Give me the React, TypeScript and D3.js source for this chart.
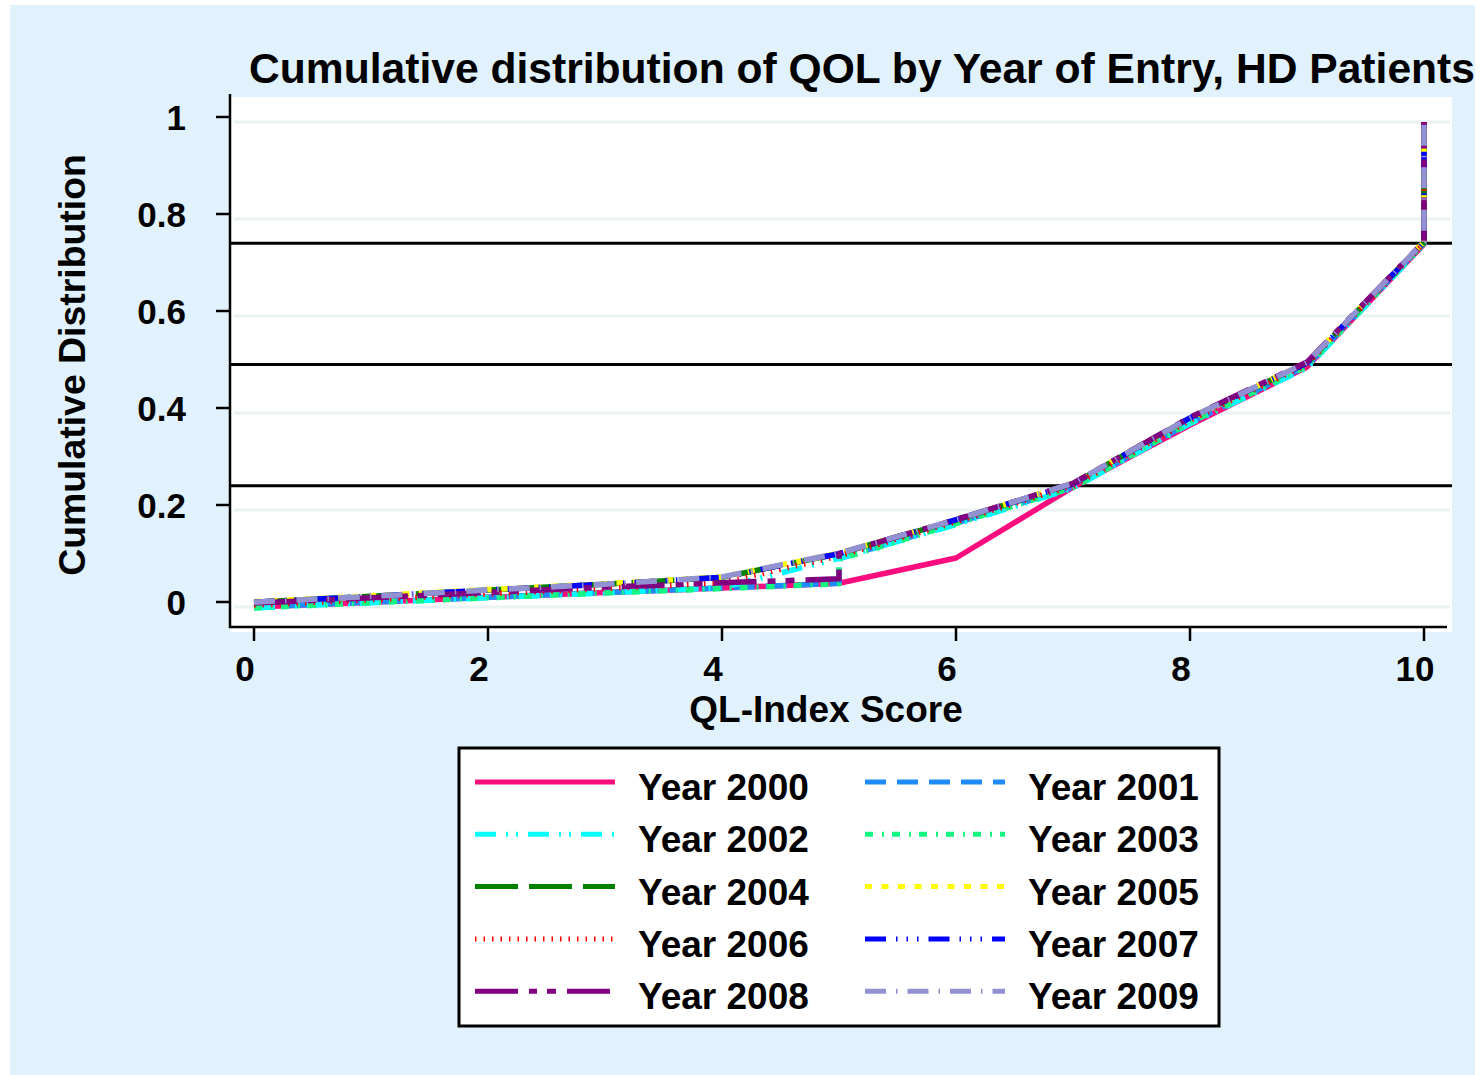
import * as d3 from 'd3';

// cumulative distribution of the QL-Index score, one list of [score, cumulative] per entry year
const qol2000: [number, number][] = [[0, 0], [1, 0.01], [2, 0.02], [3, 0.03], [4, 0.039], [5, 0.049], [6, 0.101], [7, 0.247], [8, 0.375], [9, 0.495], [10, 0.748], [10, 1]];
const qol2001: [number, number][] = [[0, 0], [1, 0.01], [2, 0.02], [3, 0.03], [4, 0.039], [5, 0.049], [5, 0.1], [6, 0.173], [7, 0.247], [8, 0.38], [9, 0.497], [10, 0.75], [10, 1]];
const qol2002: [number, number][] = [[0, -0.002], [1, 0.009], [2, 0.019], [3, 0.029], [4, 0.04], [5, 0.1], [6, 0.17], [7, 0.245], [8, 0.378], [9, 0.493], [10, 0.748], [10, 1]];
const qol2003: [number, number][] = [[0, -0.002], [1, 0.009], [2, 0.019], [3, 0.029], [4, 0.038], [5, 0.048], [5, 0.098], [6, 0.172], [7, 0.246], [8, 0.38], [9, 0.496], [10, 0.75], [10, 1]];
const qol2004: [number, number][] = [[0, 0.01], [1, 0.022], [2, 0.035], [3, 0.047], [4, 0.061], [5, 0.11], [6, 0.179], [7, 0.254], [8, 0.39], [9, 0.503], [10, 0.752], [10, 1]];
const qol2005: [number, number][] = [[0, 0.011], [1, 0.023], [2, 0.036], [3, 0.048], [4, 0.062], [5, 0.111], [6, 0.18], [7, 0.255], [8, 0.39], [9, 0.504], [10, 0.753], [10, 1]];
const qol2006: [number, number][] = [[0, 0.004], [1, 0.015], [2, 0.027], [3, 0.038], [4, 0.05], [5, 0.105], [6, 0.176], [7, 0.25], [8, 0.385], [9, 0.5], [10, 0.75], [10, 1]];
const qol2007: [number, number][] = [[0, 0.01], [1, 0.022], [2, 0.035], [3, 0.047], [4, 0.061], [5, 0.11], [6, 0.18], [7, 0.254], [8, 0.39], [9, 0.503], [10, 0.752], [10, 1]];
const qol2008: [number, number][] = [[0, 0.008], [1, 0.019], [2, 0.03], [3, 0.041], [4, 0.05], [5, 0.058], [5, 0.11], [6, 0.18], [7, 0.255], [8, 0.391], [9, 0.505], [10, 0.753], [10, 1]];
const qol2009: [number, number][] = [[0, 0.01], [1, 0.022], [2, 0.035], [3, 0.047], [4, 0.062], [5, 0.111], [6, 0.18], [7, 0.255], [8, 0.39], [9, 0.504], [10, 0.753], [10, 1]];

const years = ['2000', '2001', '2002', '2003', '2004', '2005', '2006', '2007', '2008', '2009'];
const seriesData = [qol2000, qol2001, qol2002, qol2003, qol2004, qol2005, qol2006, qol2007, qol2008, qol2009];

const xTicks = [0, 2, 4, 6, 8, 10];
const yTicks = [0, 0.2, 0.4, 0.6, 0.8, 1];
const refLines = [0.25, 0.5, 0.75];

const lineStyles = [
  { color: '#fb0d7f', dash: 'none' },
  { color: '#1e8cff', dash: '21,11' },
  { color: '#00ffff', dash: '21,10,2,8,2,10' },
  { color: '#14f582', dash: '8,9,2,8' },
  { color: '#008000', dash: '43,11' },
  { color: '#ffff00', dash: '7,9.5' },
  { color: '#ff0000', dash: '1.5,7' },
  { color: '#0000ff', dash: '21,10,1.5,9,1.5,9,1.5,10' },
  { color: '#800080', dash: '43,11,8,10,9,11' },
  { color: '#9292d2', dash: '21,10,1.5,10' },
];

const W = 1483;
const H = 1075;
const plot = { left: 231, right: 1452, top: 97, bottom: 627 };
const font = '"Liberation Sans", Arial, Helvetica, sans-serif';

export default function App() {
  const xScale = d3.scaleLinear().domain([0, 10]).range([254, 1424]);
  const yScale = d3.scaleLinear().domain([0, 1]).range([607, 122]);
  // Stata draws the tick marks a few px above the grid lines
  const tickY = (v: number) => yScale(v) - 5;

  const line = d3.line<[number, number]>()
    .x(d => xScale(d[0]))
    .y(d => yScale(d[1]));

  const legendRows = d3.range(5);
  const legendY = (i: number) => 782 + i * 52.3;

  return (
    <svg width={W} height={H} style={{ position: 'absolute', left: 0, top: 0, display: 'block' }}
      fontFamily={font} fontWeight="bold">
      <rect x={0} y={0} width={W} height={H} fill="#ffffff" />
      <rect x={10} y={5} width={1465} height={1070} fill="#e1f2fd" />

      <text x={862} y={83} textAnchor="middle" fontSize={42.6} fill="#000">
        Cumulative distribution of QOL by Year of Entry, HD Patients
      </text>

      <rect x={plot.left} y={plot.top} width={plot.right - plot.left} height={plot.bottom + 5 - plot.top} fill="#ffffff" />

      {yTicks.map(v => (
        <line key={'g' + v} x1={234} x2={plot.right - 2} y1={yScale(v)} y2={yScale(v)}
          stroke="#eaf2f3" strokeWidth={3} />
      ))}

      {refLines.map(v => (
        <line key={'r' + v} x1={plot.left} x2={plot.right} y1={yScale(v)} y2={yScale(v)}
          stroke="#000" strokeWidth={3} />
      ))}

      {seriesData.map((d, i) => (
        <path key={years[i]} d={line(d) || ''} fill="none" stroke={lineStyles[i].color}
          strokeWidth={5.5} strokeDasharray={lineStyles[i].dash} strokeLinejoin="round" />
      ))}

      {/* axes */}
      <line x1={230} x2={230} y1={94} y2={628} stroke="#000" strokeWidth={2.5} />
      <line x1={229} x2={1447} y1={627} y2={627} stroke="#000" strokeWidth={2.5} />
      {yTicks.map(v => (
        <g key={'yt' + v}>
          <line x1={216} x2={230} y1={tickY(v)} y2={tickY(v)} stroke="#000" strokeWidth={2.5} />
          <text x={186} y={tickY(v) + 12.5} textAnchor="end" fontSize={35} fill="#000">{v}</text>
        </g>
      ))}
      {xTicks.map(v => (
        <g key={'xt' + v}>
          <line x1={xScale(v)} x2={xScale(v)} y1={627} y2={641} stroke="#000" strokeWidth={2.5} />
          <text x={xScale(v) - 9} y={681} textAnchor="middle" fontSize={35} fill="#000">{v}</text>
        </g>
      ))}
      <text x={826} y={722} textAnchor="middle" fontSize={37} fill="#000">QL-Index Score</text>
      <text transform="translate(85,365) rotate(-90)" textAnchor="middle" fontSize={37.4} fill="#000">
        Cumulative Distribution
      </text>

      {/* legend */}
      <rect x={459} y={748} width={760} height={278} fill="#ffffff" stroke="#000" strokeWidth={3} />
      {legendRows.map(r => [0, 1].map(c => {
        const i = r * 2 + c;
        const lx = c === 0 ? 475 : 865;
        return (
          <g key={'lg' + i}>
            <line x1={lx} x2={lx + 140} y1={legendY(r)} y2={legendY(r)} stroke={lineStyles[i].color}
              strokeWidth={5} strokeDasharray={lineStyles[i].dash} />
            <text x={lx + 163} y={legendY(r) + 18} fontSize={37} fill="#000">Year {years[i]}</text>
          </g>
        );
      }))}
    </svg>
  );
}
